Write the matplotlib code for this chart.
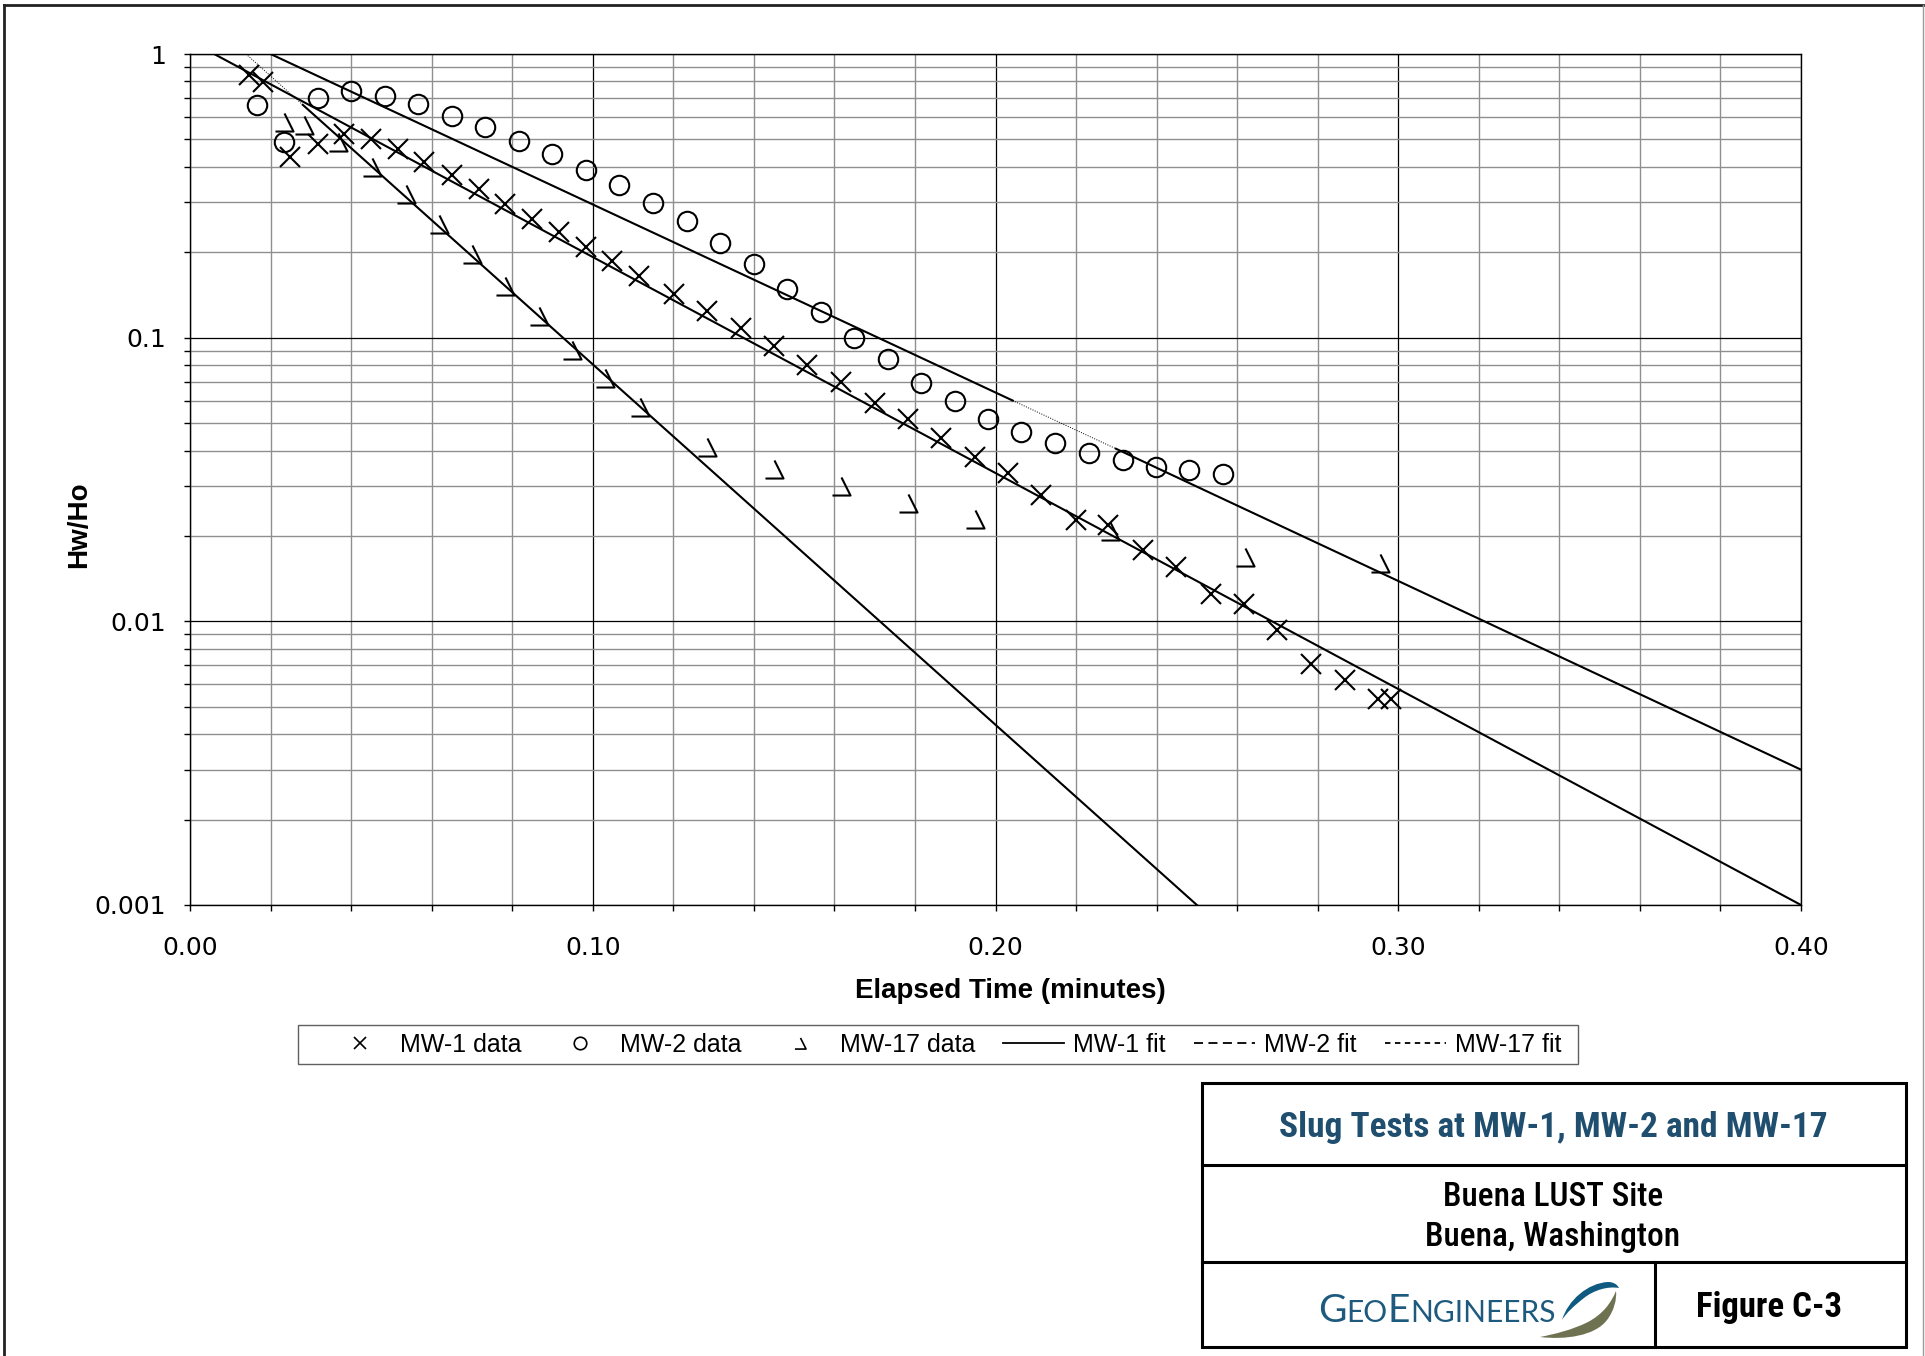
import matplotlib
matplotlib.use('Agg')
import matplotlib.pyplot as plt
import matplotlib.ticker as mticker
import matplotlib.transforms as mtransforms
from matplotlib.path import Path
from matplotlib.patches import PathPatch, Rectangle
from matplotlib.lines import Line2D

plt.rcParams['font.family'] = ['Liberation Sans', 'DejaVu Sans']

# slug test recovery, elapsed time (minutes) vs normalized head Hw/Ho
mw1_time = [0.0147, 0.0181, 0.0248, 0.0317, 0.0383, 0.0450, 0.0516, 0.0582, 0.0650, 0.0717,
            0.0783, 0.0849, 0.0916, 0.0982, 0.1048, 0.1116, 0.1201, 0.1284, 0.1368, 0.1450,
            0.1533, 0.1616, 0.1700, 0.1782, 0.1865, 0.1948, 0.2031, 0.2114, 0.2199, 0.2280,
            0.2365, 0.2448, 0.2534, 0.2617, 0.2699, 0.2784, 0.2867, 0.2950, 0.2983]
mw1_head = [0.843, 0.798, 0.435, 0.482, 0.524, 0.503, 0.463, 0.416, 0.373, 0.334,
            0.296, 0.262, 0.235, 0.208, 0.186, 0.165, 0.143, 0.124, 0.108, 0.0934,
            0.0799, 0.0698, 0.0588, 0.0518, 0.0443, 0.0381, 0.0333, 0.0279, 0.0227, 0.0218,
            0.0178, 0.0155, 0.0125, 0.0115, 0.00935, 0.00709, 0.00619, 0.00533, 0.00533]

mw2_time = [0.0166, 0.0234, 0.0317, 0.0400, 0.0483, 0.0565, 0.0650, 0.0733, 0.0816, 0.0899,
            0.0982, 0.1066, 0.1150, 0.1235, 0.1317, 0.1400, 0.1483, 0.1567, 0.1649, 0.1732,
            0.1815, 0.1899, 0.1981, 0.2064, 0.2147, 0.2232, 0.2316, 0.2398, 0.2481, 0.2564]
mw2_head = [0.660, 0.489, 0.700, 0.740, 0.710, 0.665, 0.603, 0.553, 0.492, 0.445,
            0.390, 0.346, 0.299, 0.258, 0.215, 0.182, 0.149, 0.123, 0.100, 0.0843,
            0.0692, 0.0600, 0.0518, 0.0465, 0.0425, 0.0392, 0.0371, 0.0350, 0.0341, 0.0330]

mw17_time = [0.0234, 0.0283, 0.0368, 0.0453, 0.0536, 0.0618, 0.0701, 0.0783, 0.0866, 0.0949,
             0.1031, 0.1117, 0.1284, 0.1450, 0.1616, 0.1782, 0.1948, 0.2284, 0.2619, 0.2954]
mw17_head = [0.576, 0.563, 0.489, 0.399, 0.322, 0.251, 0.198, 0.152, 0.119, 0.0907,
             0.0718, 0.0570, 0.0413, 0.0345, 0.0301, 0.0261, 0.0230, 0.0209, 0.0169, 0.0160]

# straight-line fits (end points, plus where the solid trace is broken)
mw1_fit_time = [0.0060, 0.40]
mw1_fit_head = [1.0, 0.001]
mw2_fit_time = [0.0200, 0.2043, 0.2299, 0.40]
mw2_fit_head = [1.0, 0.0600, 0.0406, 0.0030]
mw17_fit_time = [0.0139, 0.0280, 0.25]
mw17_fit_head = [1.0, 0.662, 0.001]

x_ticks = [0.0, 0.1, 0.2, 0.3, 0.4]
x_tick_labels = ['0.00', '0.10', '0.20', '0.30', '0.40']
y_ticks = [0.001, 0.01, 0.1, 1]
y_tick_labels = ['0.001', '0.01', '0.1', '1']

W, H = 1925, 1356
fig = plt.figure(figsize=(W / 100, H / 100), dpi=100)
# pixel coordinates measured from the top-left corner of the sheet
px = mtransforms.Affine2D().scale(1 / W, -1 / H).translate(0, 1) + fig.transFigure

ax = fig.add_axes([190 / W, 1 - 905 / H, (1801 - 190) / W, (905 - 54) / H])
ax.set_yscale('log')
ax.set_xlim(0, 0.4)
ax.set_ylim(0.001, 1)

# fit lines
dotted = (0, (1, 1.5))
ax.plot(mw1_fit_time, mw1_fit_head, color='black', lw=1.5)
ax.plot(mw2_fit_time, mw2_fit_head, color='black', lw=0.7, ls=dotted)
ax.plot(mw2_fit_time[:2], mw2_fit_head[:2], color='black', lw=1.5)
ax.plot(mw2_fit_time[2:], mw2_fit_head[2:], color='black', lw=1.5)
ax.plot(mw17_fit_time, mw17_fit_head, color='black', lw=0.7, ls=dotted)
ax.plot(mw17_fit_time[1:], mw17_fit_head[1:], color='black', lw=1.5)

# data
hook = Path([(0, 1), (1, -1), (-1, -1)], [Path.MOVETO, Path.LINETO, Path.LINETO])
ax.plot(mw1_time, mw1_head, ls='none', marker='x', ms=14.5, mew=1.5, color='black', zorder=4)
ax.plot(mw2_time, mw2_head, ls='none', marker='o', ms=14, mew=1.5, mfc='none', mec='black', zorder=4)
ax.plot(mw17_time, mw17_head, ls='none', marker=hook, ms=13, mew=1.5, mfc='none', mec='black', zorder=4)

ax.set_xticks(x_ticks)
ax.set_xticklabels(x_tick_labels)
ax.xaxis.set_minor_locator(mticker.MultipleLocator(0.02))
ax.set_yticks(y_ticks)
ax.set_yticklabels(y_tick_labels)
ax.yaxis.set_minor_locator(mticker.LogLocator(base=10, subs=range(2, 10)))
ax.yaxis.set_minor_formatter(mticker.NullFormatter())
ax.tick_params(which='both', direction='out', length=4.5, width=1, color='black')
ax.tick_params(axis='x', which='major', labelsize=18, pad=18)
ax.tick_params(axis='y', which='major', labelsize=18, pad=13)
for lbl in ax.get_xticklabels() + ax.get_yticklabels():
    lbl.set_fontfamily('DejaVu Sans')

ax.grid(which='minor', color='#8f8f8f', lw=1.0)
ax.grid(which='major', color='black', lw=0.9)
ax.set_axisbelow(True)
for sp in ax.spines.values():
    sp.set_color('black')
    sp.set_linewidth(1.0)

ax.set_xlabel('Elapsed Time (minutes)', fontsize=20, fontweight='bold', va='center')
ax.xaxis.set_label_coords(0.509, -0.1015)
ax.set_ylabel('Hw/Ho', fontsize=20, fontweight='bold', va='center', ha='center')
ax.yaxis.set_label_coords(-0.0689, 0.4465)

# legend, with its box drawn separately (wider padding on the left)
handles = [
    Line2D([], [], ls='none', marker='x', ms=9, mew=1.2, color='black'),
    Line2D([], [], ls='none', marker='o', ms=9, mew=1.2, mfc='none', mec='black'),
    Line2D([], [], ls='none', marker=hook, ms=8, mew=1.2, mfc='none', mec='black'),
    Line2D([], [], color='black', lw=1.3),
    Line2D([], [], color='black', lw=1.3, ls=(0, (5, 3))),
    Line2D([], [], color='black', lw=1.3, ls=(0, (3, 2.5))),
]
labels = ['MW-1 data', 'MW-2 data', 'MW-17 data', 'MW-1 fit', 'MW-2 fit', 'MW-17 fit']
fig.legend(handles, labels, loc='center left', bbox_to_anchor=(329 / W, 1 - 1044.5 / H),
           ncol=6, fontsize=18, frameon=False, borderpad=0, borderaxespad=0,
           handlelength=2.45, handletextpad=0.37, columnspacing=1.12)
fig.add_artist(Rectangle((298, 1025), 1280, 39, transform=px, fill=False, ec='#606060', lw=1.0))

# sheet border
fig.add_artist(Line2D([4, 4], [5, H], transform=px, color='#222222', lw=2.0))
fig.add_artist(Line2D([4, 1923], [5, 5], transform=px, color='#222222', lw=2.0))
fig.add_artist(Line2D([1923, 1923], [5, H], transform=px, color='#9a9a9a', lw=1.0))

# title block
fig.add_artist(Rectangle((1202, 1083), 704, 264, transform=px, fill=False, ec='black', lw=2.2))
fig.add_artist(Line2D([1202, 1906], [1165, 1165], transform=px, color='black', lw=2.2))
fig.add_artist(Line2D([1202, 1906], [1262, 1262], transform=px, color='black', lw=2.2))
fig.add_artist(Line2D([1655, 1655], [1262, 1347], transform=px, color='black', lw=2.2))

narrow = ['Roboto Condensed', 'Noto Sans Condensed', 'Noto Sans', 'Liberation Sans']
fig.text(1553, 1127, 'Slug Tests at MW-1, MW-2 and MW-17', transform=px, ha='center', va='center',
         fontsize=25.5, fontweight='bold', color='#1f4e6e', family=narrow, fontstretch='condensed')
fig.text(1553, 1197, 'Buena LUST Site', transform=px, ha='center', va='center',
         fontsize=24, fontweight='medium', color='black', family=narrow, fontstretch='condensed')
fig.text(1553, 1237, 'Buena, Washington', transform=px, ha='center', va='center',
         fontsize=24, fontweight='medium', color='black', family=narrow, fontstretch='condensed')
fig.text(1769, 1307, 'Figure C-3', transform=px, ha='center', va='center',
         fontsize=25, fontweight='bold', color='black', family=narrow, fontstretch='condensed')

# company mark: small-caps word plus leaf
renderer = fig.canvas.get_renderer()
logo_blue = '#1d5a7e'
xpos = 1318
for part, size in [('G', 28), ('EO', 21.5), ('E', 28), ('NGINEERS', 21.5)]:
    t = fig.text(xpos, 1322, part, transform=px, ha='left', va='baseline', fontsize=size,
                 color=logo_blue, family=['Lato', 'DejaVu Sans'])
    xpos += t.get_window_extent(renderer).width

C4 = Path.CURVE4
leaf_codes = [Path.MOVETO] + [C4] * 12 + [Path.CLOSEPOLY]
blue_leaf = Path([(1562, 1320), (1568, 1300), (1588, 1283), (1608, 1282),
                  (1613, 1282), (1617, 1284), (1619, 1288),
                  (1608, 1286), (1594, 1290), (1584, 1298),
                  (1575, 1305), (1566, 1313), (1562, 1320), (1562, 1320)], leaf_codes)
olive_leaf = Path([(1540, 1337), (1565, 1340), (1595, 1336), (1607, 1320),
                   (1614, 1311), (1617, 1299), (1616, 1291),
                   (1611, 1303), (1603, 1314), (1588, 1322),
                   (1572, 1330), (1555, 1334), (1540, 1337), (1540, 1337)], leaf_codes)
fig.add_artist(PathPatch(blue_leaf, transform=px, fc='#0f5a80', ec='none'))
fig.add_artist(PathPatch(olive_leaf, transform=px, fc='#6f7251', ec='none'))

fig.savefig('out.png', dpi=100, facecolor='white')
